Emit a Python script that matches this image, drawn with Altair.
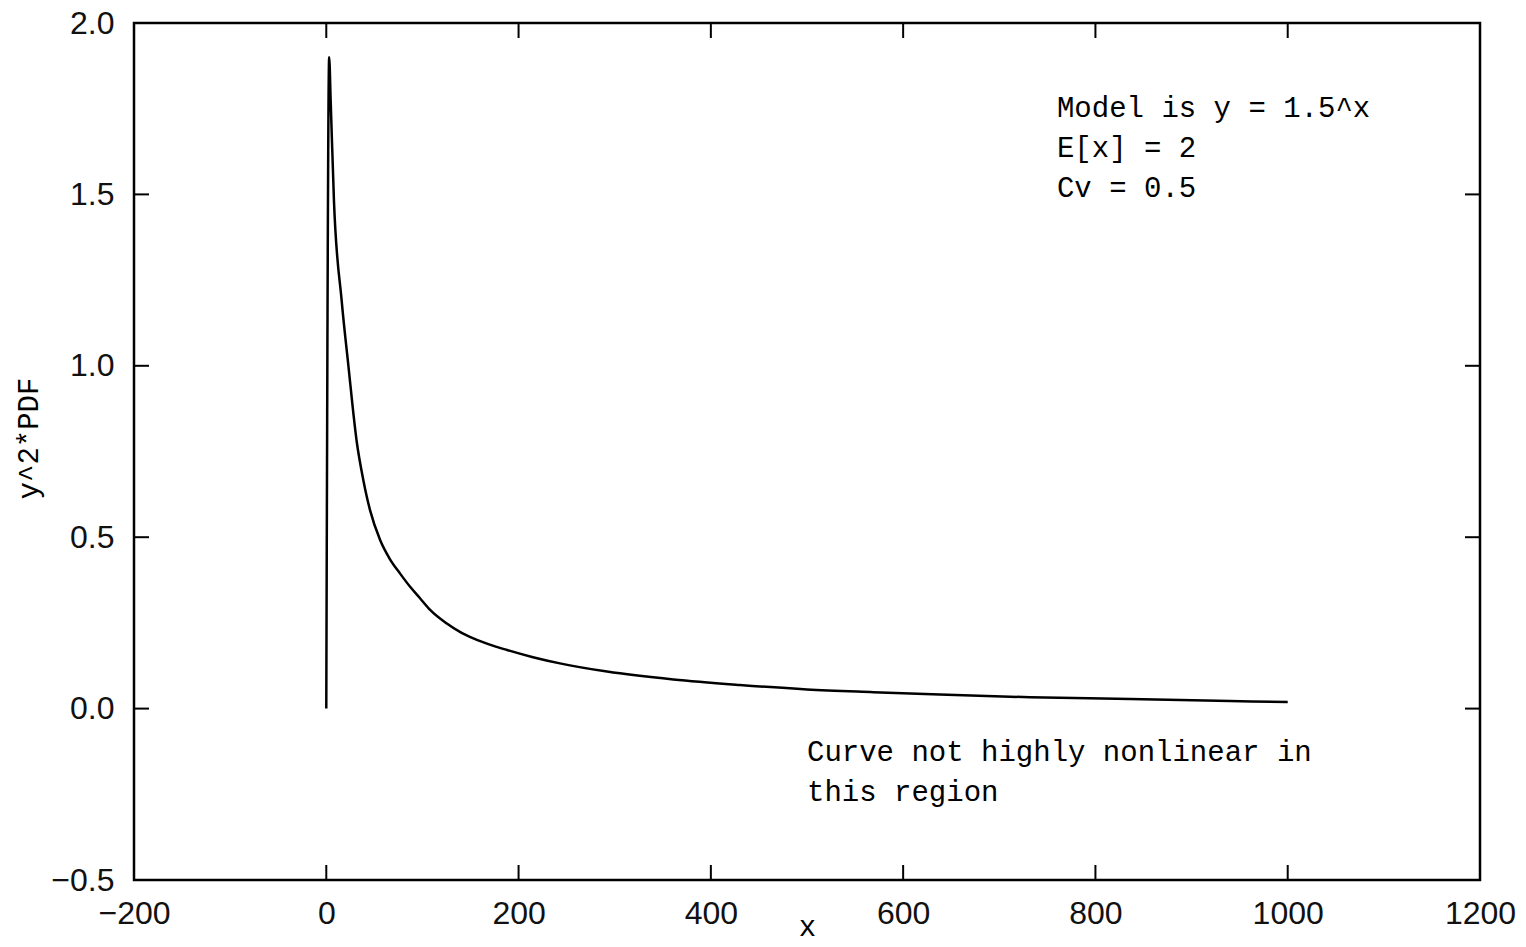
import altair as alt
import pandas as pd

# Curve
curve_x = [0, 3, 4.6, 8, 16, 23, 31.6, 38.5, 42.6, 45.5, 56, 66, 77, 87, 97.5, 108,
           125, 139, 153, 174, 188, 215, 243, 292, 361, 430, 500, 569, 638, 732,
           836, 940, 1000]
curve_y = [0.0, 1.90, 1.77, 1.48, 1.19, 1.00, 0.78, 0.667, 0.612, 0.579, 0.492,
           0.437, 0.393, 0.356, 0.322, 0.288, 0.249, 0.224, 0.205, 0.183, 0.171,
           0.150, 0.132, 0.108, 0.085, 0.069, 0.056, 0.048, 0.041, 0.033, 0.028,
           0.022, 0.019]

x_ticks = [-200, 0, 200, 400, 600, 800, 1000, 1200]
y_ticks = [-0.5, 0.0, 0.5, 1.0, 1.5, 2.0]

note1_lines = ["Model is y = 1.5^x", "E[x] = 2", "Cv = 0.5"]
note1_x = [760, 760, 760]
note1_y = [1.752, 1.635, 1.519]
note2_lines = ["Curve not highly nonlinear in", "this region"]
note2_x = [500, 500]
note2_y = [-0.127, -0.243]

W, H = 1346, 857
TICK = 15
MONO = "Liberation Mono"
SANS = "Liberation Sans"

xs = alt.Scale(domain=[-200, 1200], nice=False, zero=False)
ys = alt.Scale(domain=[-0.5, 2.0], nice=False, zero=False)

curve = pd.DataFrame({"x": curve_x, "y": curve_y})
notes = pd.DataFrame({"x": note1_x + note2_x, "y": note1_y + note2_y,
                      "t": note1_lines + note2_lines})
xt = pd.DataFrame({"v": x_ticks})
yt = pd.DataFrame({"v": y_ticks})

line = alt.Chart(curve).mark_line(color="black", strokeWidth=2.5,
                                  interpolate="monotone").encode(
    x=alt.X("x:Q", scale=xs, axis=alt.Axis(
        values=x_ticks, title="x", format="d", tickSize=0, domain=False, grid=False,
        labelFont=SANS, labelFontSize=32, labelColor="#111", labelPadding=18,
        labelFlush=False, labelOverlap=False,
        titleFont=MONO, titleFontSize=29, titleFontWeight="normal", titleColor="black",
        titleBaseline="alphabetic", titleY=55, titleX=W / 2)),
    y=alt.Y("y:Q", scale=ys, axis=alt.Axis(
        values=y_ticks, title="y^2*PDF", format=".1f", tickSize=0, domain=False, grid=False,
        labelFont=SANS, labelFontSize=32, labelColor="#111", labelPadding=20,
        labelFlush=False, labelOverlap=False,
        titleFont=MONO, titleFontSize=29, titleFontWeight="normal", titleColor="black",
        titleBaseline="alphabetic", titleX=-97, titleY=415, titleAngle=-90)),
    order="x:Q",
)

text = alt.Chart(notes).mark_text(align="left", baseline="middle", font=MONO,
                                  fontSize=29, color="black").encode(
    x=alt.X("x:Q", scale=xs), y=alt.Y("y:Q", scale=ys), text="t:N")

bx = alt.Chart(xt).mark_rule(color="black", strokeWidth=2).encode(
    x=alt.X("v:Q", scale=xs), y=alt.value(H), y2=alt.value(H - TICK))
tx = alt.Chart(xt).mark_rule(color="black", strokeWidth=2).encode(
    x=alt.X("v:Q", scale=xs), y=alt.value(0), y2=alt.value(TICK))
ly = alt.Chart(yt).mark_rule(color="black", strokeWidth=2).encode(
    y=alt.Y("v:Q", scale=ys), x=alt.value(0), x2=alt.value(TICK))
ry = alt.Chart(yt).mark_rule(color="black", strokeWidth=2).encode(
    y=alt.Y("v:Q", scale=ys), x=alt.value(W), x2=alt.value(W - TICK))

chart = alt.layer(line, text, bx, tx, ly, ry).properties(
    width=W, height=H,
    autosize=alt.AutoSizeParams(type="none"),
    padding={"left": 134, "top": 23, "right": 46, "bottom": 67},
    background="white",
).configure_view(stroke="black", strokeWidth=2.5)

chart.save("out.html", embed_options={"renderer": "svg", "actions": False})
